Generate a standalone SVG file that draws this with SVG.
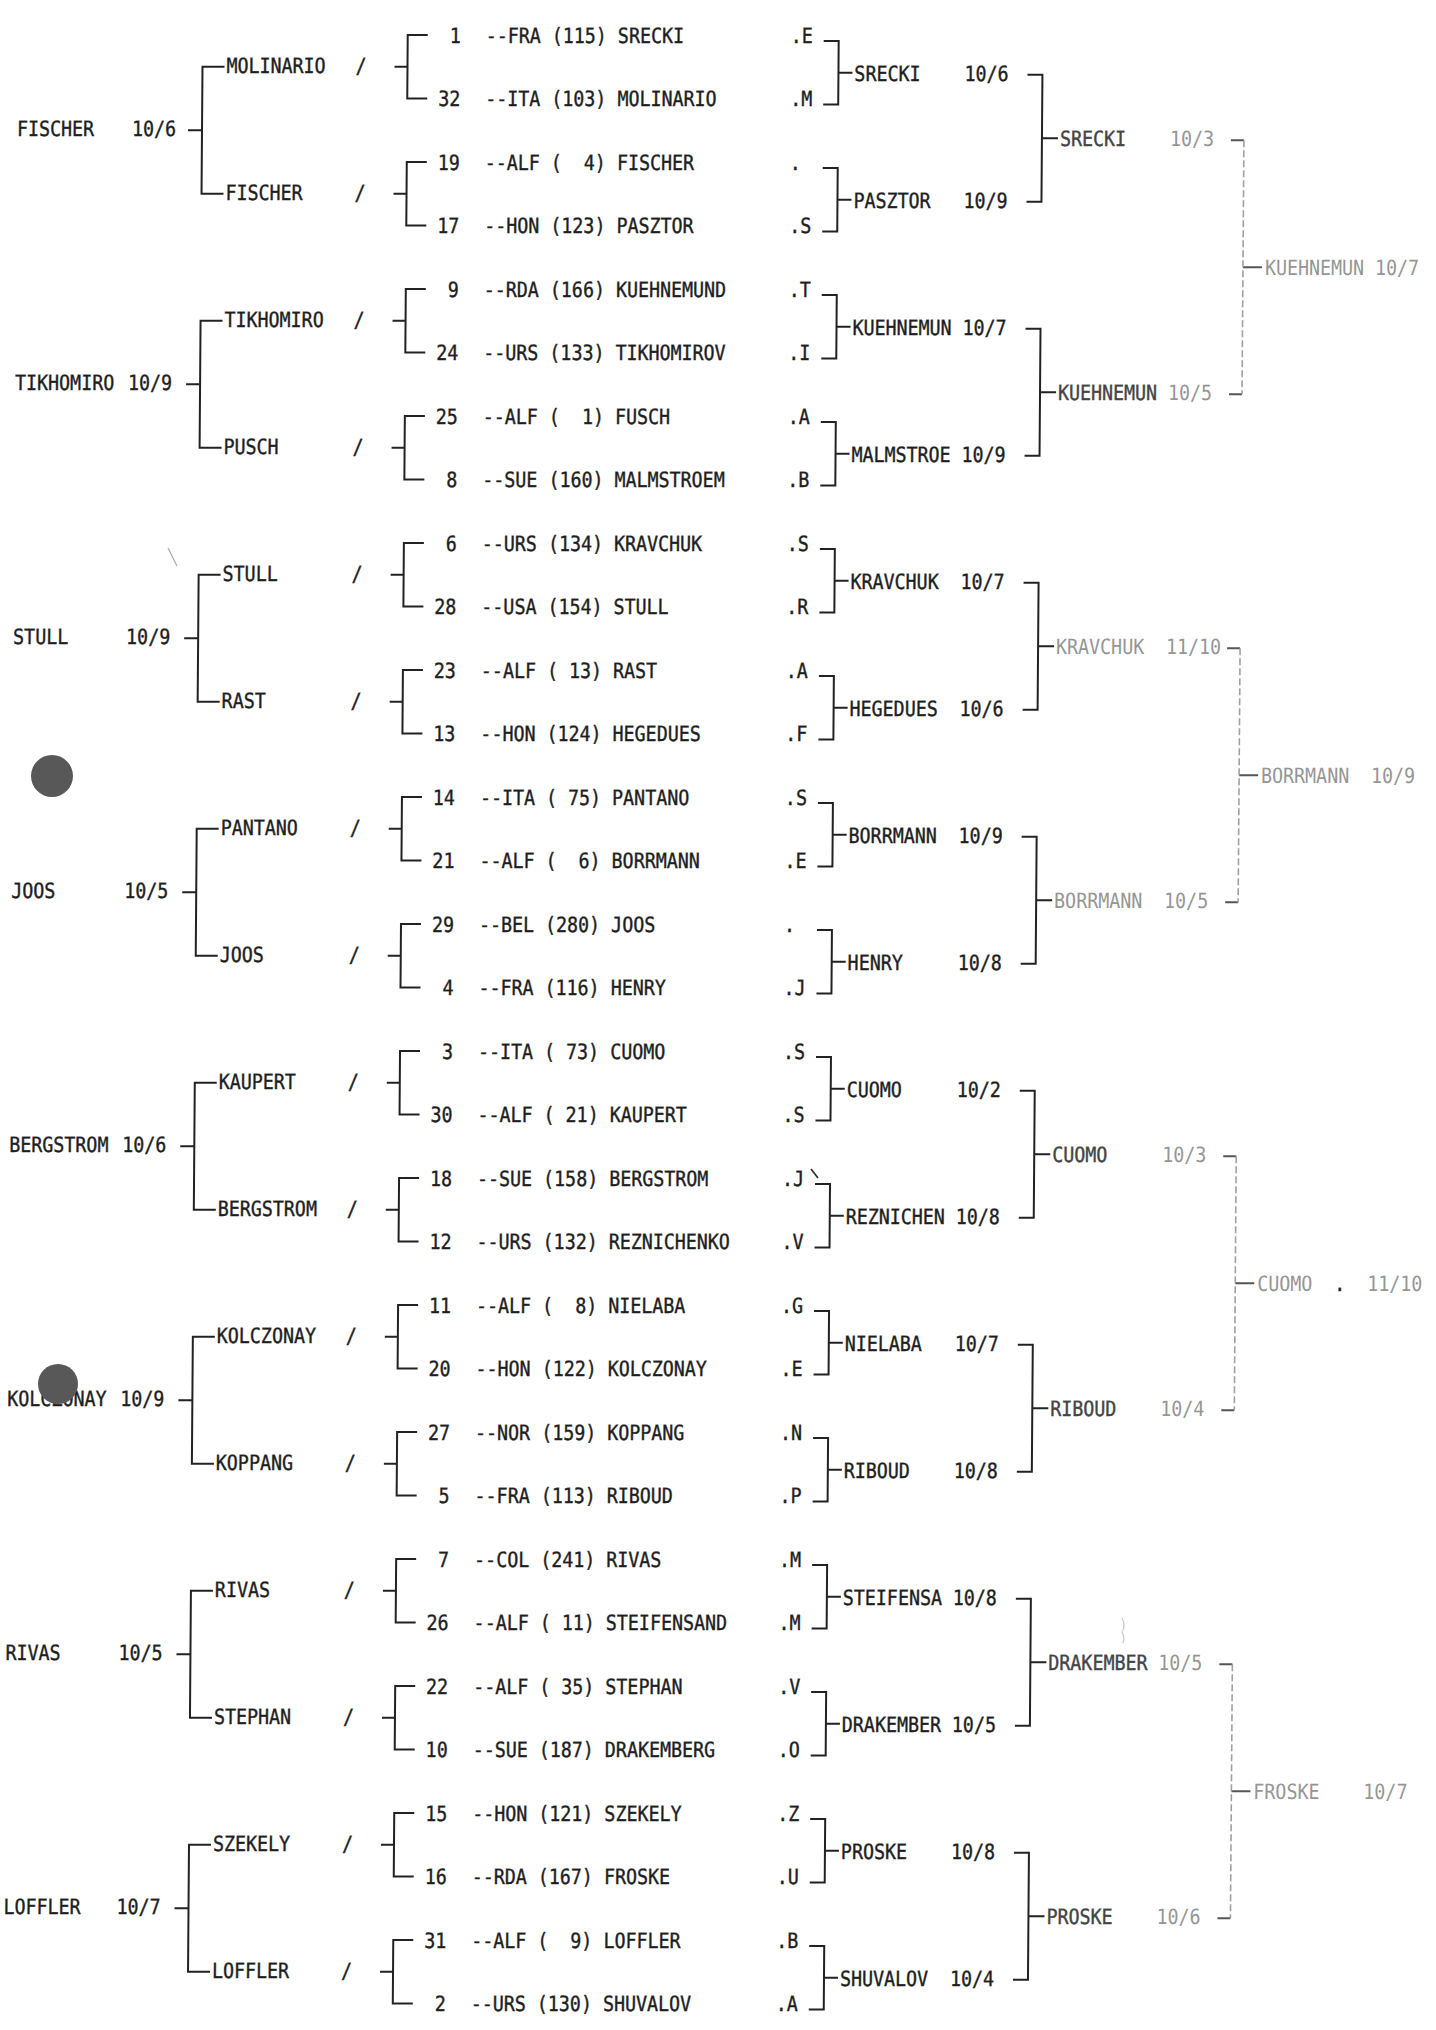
<svg xmlns="http://www.w3.org/2000/svg" width="1436" height="2030" viewBox="0 0 1436 2030">
<style>
text{font-family:"DejaVu Sans Mono","Liberation Mono",monospace;font-size:18.3px;fill:#1e1e1e;stroke:#1e1e1e;stroke-width:0.35;transform-box:fill-box;transform-origin:50% 50%;transform:scaleY(1.15);}
.n{text-anchor:end;}
.m{fill:#444;stroke:#444;}
.f{fill:#959595;stroke:none;}
.ln{fill:none;stroke:#222;stroke-width:2;}
.lm{fill:none;stroke:#555;stroke-width:1.8;}
.lf{fill:none;stroke:#a0a0a0;stroke-width:1.6;stroke-dasharray:7 3;}
</style>
<rect width="1436" height="2030" fill="#fff"/>
<g transform="skewX(-0.435)">
<g id="connectors">
<path class="ln" d="M225,66.75H203V193.75H225M189,130.25H203M225,320.75H203V447.75H225M189,384.25H203M225,574.75H203V701.75H225M189,638.25H203M225,828.75H203V955.75H225M189,892.25H203M225,1082.75H203V1209.75H225M189,1146.25H203M225,1336.75H203V1463.75H225M189,1400.25H203M225,1590.75H203V1717.75H225M189,1654.25H203M225,1844.75H203V1971.75H225M189,1908.25H203"/>
<path class="ln" d="M428,35H408V98.5H428M395,66.75H408M428,162H408V225.5H428M395,193.75H408M428,289H408V352.5H428M395,320.75H408M428,416H408V479.5H428M395,447.75H408M428,543H408V606.5H428M395,574.75H408M428,670H408V733.5H428M395,701.75H408M428,797H408V860.5H428M395,828.75H408M428,924H408V987.5H428M395,955.75H408M428,1051H408V1114.5H428M395,1082.75H408M428,1178H408V1241.5H428M395,1209.75H408M428,1305H408V1368.5H428M395,1336.75H408M428,1432H408V1495.5H428M395,1463.75H408M428,1559H408V1622.5H428M395,1590.75H408M428,1686H408V1749.5H428M395,1717.75H408M428,1813H408V1876.5H428M395,1844.75H408M428,1940H408V2003.5H428M395,1971.75H408"/>
<path class="ln" d="M824,41H839V104.5H824M839,72.75H853M824,168H839V231.5H824M839,199.75H853M824,295H839V358.5H824M839,326.75H853M824,422H839V485.5H824M839,453.75H853M824,549H839V612.5H824M839,580.75H853M824,676H839V739.5H824M839,707.75H853M824,803H839V866.5H824M839,834.75H853M824,930H839V993.5H824M839,961.75H853M824,1057H839V1120.5H824M839,1088.75H853M824,1184H839V1247.5H824M839,1215.75H853M824,1311H839V1374.5H824M839,1342.75H853M824,1438H839V1501.5H824M839,1469.75H853M824,1565H839V1628.5H824M839,1596.75H853M824,1692H839V1755.5H824M839,1723.75H853M824,1819H839V1882.5H824M839,1850.75H853M824,1946H839V2009.5H824M839,1977.75H853"/>
<path class="ln" d="M1028,74.75H1043V201.75H1028M1043,138.25H1059M1028,328.75H1043V455.75H1028M1043,392.25H1059M1028,582.75H1043V709.75H1028M1043,646.25H1059M1028,836.75H1043V963.75H1028M1043,900.25H1059M1028,1090.75H1043V1217.75H1028M1043,1154.25H1059M1028,1344.75H1043V1471.75H1028M1043,1408.25H1059M1028,1598.75H1043V1725.75H1028M1043,1662.25H1059M1028,1852.75H1043V1979.75H1028M1043,1916.25H1059"/>
<path class="lm" d="M1232,140.25H1245M1232,394.25H1245M1245,267.25H1264M1232,648.25H1245M1232,902.25H1245M1245,775.25H1264M1232,1156.25H1245M1232,1410.25H1245M1245,1283.25H1264M1232,1664.25H1245M1232,1918.25H1245M1245,1791.25H1264"/>
<path class="lf" d="M1245,140.25V394.25M1245,648.25V902.25M1245,1156.25V1410.25M1245,1664.25V1918.25"/>
</g>
<g id="entries">
<g id="seed1"><text class="n" x="461" y="42">1</text><text x="486" y="42">--FRA (115) SRECKI</text><text x="791" y="42">.E</text></g>
<g id="seed32"><text class="n" x="461" y="105.5">32</text><text x="486" y="105.5">--ITA (103) MOLINARIO</text><text x="791" y="105.5">.M</text></g>
<g id="seed19"><text class="n" x="461" y="169">19</text><text x="486" y="169">--ALF (&#160;&#160;4) FISCHER</text><text x="791" y="169">.</text></g>
<g id="seed17"><text class="n" x="461" y="232.5">17</text><text x="486" y="232.5">--HON (123) PASZTOR</text><text x="791" y="232.5">.S</text></g>
<g id="seed9"><text class="n" x="461" y="296">9</text><text x="486" y="296">--RDA (166) KUEHNEMUND</text><text x="791" y="296">.T</text></g>
<g id="seed24"><text class="n" x="461" y="359.5">24</text><text x="486" y="359.5">--URS (133) TIKHOMIROV</text><text x="791" y="359.5">.I</text></g>
<g id="seed25"><text class="n" x="461" y="423">25</text><text x="486" y="423">--ALF (&#160;&#160;1) FUSCH</text><text x="791" y="423">.A</text></g>
<g id="seed8"><text class="n" x="461" y="486.5">8</text><text x="486" y="486.5">--SUE (160) MALMSTROEM</text><text x="791" y="486.5">.B</text></g>
<g id="seed6"><text class="n" x="461" y="550">6</text><text x="486" y="550">--URS (134) KRAVCHUK</text><text x="791" y="550">.S</text></g>
<g id="seed28"><text class="n" x="461" y="613.5">28</text><text x="486" y="613.5">--USA (154) STULL</text><text x="791" y="613.5">.R</text></g>
<g id="seed23"><text class="n" x="461" y="677">23</text><text x="486" y="677">--ALF ( 13) RAST</text><text x="791" y="677">.A</text></g>
<g id="seed13"><text class="n" x="461" y="740.5">13</text><text x="486" y="740.5">--HON (124) HEGEDUES</text><text x="791" y="740.5">.F</text></g>
<g id="seed14"><text class="n" x="461" y="804">14</text><text x="486" y="804">--ITA ( 75) PANTANO</text><text x="791" y="804">.S</text></g>
<g id="seed21"><text class="n" x="461" y="867.5">21</text><text x="486" y="867.5">--ALF (&#160;&#160;6) BORRMANN</text><text x="791" y="867.5">.E</text></g>
<g id="seed29"><text class="n" x="461" y="931">29</text><text x="486" y="931">--BEL (280) JOOS</text><text x="791" y="931">.</text></g>
<g id="seed4"><text class="n" x="461" y="994.5">4</text><text x="486" y="994.5">--FRA (116) HENRY</text><text x="791" y="994.5">.J</text></g>
<g id="seed3"><text class="n" x="461" y="1058">3</text><text x="486" y="1058">--ITA ( 73) CUOMO</text><text x="791" y="1058">.S</text></g>
<g id="seed30"><text class="n" x="461" y="1121.5">30</text><text x="486" y="1121.5">--ALF ( 21) KAUPERT</text><text x="791" y="1121.5">.S</text></g>
<g id="seed18"><text class="n" x="461" y="1185">18</text><text x="486" y="1185">--SUE (158) BERGSTROM</text><text x="791" y="1185">.J</text></g>
<g id="seed12"><text class="n" x="461" y="1248.5">12</text><text x="486" y="1248.5">--URS (132) REZNICHENKO</text><text x="791" y="1248.5">.V</text></g>
<g id="seed11"><text class="n" x="461" y="1312">11</text><text x="486" y="1312">--ALF (&#160;&#160;8) NIELABA</text><text x="791" y="1312">.G</text></g>
<g id="seed20"><text class="n" x="461" y="1375.5">20</text><text x="486" y="1375.5">--HON (122) KOLCZONAY</text><text x="791" y="1375.5">.E</text></g>
<g id="seed27"><text class="n" x="461" y="1439">27</text><text x="486" y="1439">--NOR (159) KOPPANG</text><text x="791" y="1439">.N</text></g>
<g id="seed5"><text class="n" x="461" y="1502.5">5</text><text x="486" y="1502.5">--FRA (113) RIBOUD</text><text x="791" y="1502.5">.P</text></g>
<g id="seed7"><text class="n" x="461" y="1566">7</text><text x="486" y="1566">--COL (241) RIVAS</text><text x="791" y="1566">.M</text></g>
<g id="seed26"><text class="n" x="461" y="1629.5">26</text><text x="486" y="1629.5">--ALF ( 11) STEIFENSAND</text><text x="791" y="1629.5">.M</text></g>
<g id="seed22"><text class="n" x="461" y="1693">22</text><text x="486" y="1693">--ALF ( 35) STEPHAN</text><text x="791" y="1693">.V</text></g>
<g id="seed10"><text class="n" x="461" y="1756.5">10</text><text x="486" y="1756.5">--SUE (187) DRAKEMBERG</text><text x="791" y="1756.5">.O</text></g>
<g id="seed15"><text class="n" x="461" y="1820">15</text><text x="486" y="1820">--HON (121) SZEKELY</text><text x="791" y="1820">.Z</text></g>
<g id="seed16"><text class="n" x="461" y="1883.5">16</text><text x="486" y="1883.5">--RDA (167) FROSKE</text><text x="791" y="1883.5">.U</text></g>
<g id="seed31"><text class="n" x="461" y="1947">31</text><text x="486" y="1947">--ALF (&#160;&#160;9) LOFFLER</text><text x="791" y="1947">.B</text></g>
<g id="seed2"><text class="n" x="461" y="2010.5">2</text><text x="486" y="2010.5">--URS (130) SHUVALOV</text><text x="791" y="2010.5">.A</text></g>
</g>
<g id="left-round32">
<g id="l32-1"><text x="227" y="71.75">MOLINARIO</text><text x="356" y="71.75">/</text></g>
<g id="l32-2"><text x="227" y="198.75">FISCHER</text><text x="356" y="198.75">/</text></g>
<g id="l32-3"><text x="227" y="325.75">TIKHOMIRO</text><text x="356" y="325.75">/</text></g>
<g id="l32-4"><text x="227" y="452.75">PUSCH</text><text x="356" y="452.75">/</text></g>
<g id="l32-5"><text x="227" y="579.75">STULL</text><text x="356" y="579.75">/</text></g>
<g id="l32-6"><text x="227" y="706.75">RAST</text><text x="356" y="706.75">/</text></g>
<g id="l32-7"><text x="227" y="833.75">PANTANO</text><text x="356" y="833.75">/</text></g>
<g id="l32-8"><text x="227" y="960.75">JOOS</text><text x="356" y="960.75">/</text></g>
<g id="l32-9"><text x="227" y="1087.75">KAUPERT</text><text x="356" y="1087.75">/</text></g>
<g id="l32-10"><text x="227" y="1214.75">BERGSTROM</text><text x="356" y="1214.75">/</text></g>
<g id="l32-11"><text x="227" y="1341.75">KOLCZONAY</text><text x="356" y="1341.75">/</text></g>
<g id="l32-12"><text x="227" y="1468.75">KOPPANG</text><text x="356" y="1468.75">/</text></g>
<g id="l32-13"><text x="227" y="1595.75">RIVAS</text><text x="356" y="1595.75">/</text></g>
<g id="l32-14"><text x="227" y="1722.75">STEPHAN</text><text x="356" y="1722.75">/</text></g>
<g id="l32-15"><text x="227" y="1849.75">SZEKELY</text><text x="356" y="1849.75">/</text></g>
<g id="l32-16"><text x="227" y="1976.75">LOFFLER</text><text x="356" y="1976.75">/</text></g>
</g>
<g id="left-round16">
<g id="l16-1"><text x="18" y="135.25">FISCHER</text><text x="133" y="135.25">10/6</text></g>
<g id="l16-2"><text x="18" y="389.25">TIKHOMIRO</text><text x="131" y="389.25">10/9</text></g>
<g id="l16-3"><text x="18" y="643.25">STULL</text><text x="131" y="643.25">10/9</text></g>
<g id="l16-4"><text x="18" y="897.25">JOOS</text><text x="131" y="897.25">10/5</text></g>
<g id="l16-5"><text x="18" y="1151.25">BERGSTROM</text><text x="131" y="1151.25">10/6</text></g>
<g id="l16-6"><text x="18" y="1405.25">KOLCZONAY</text><text x="131" y="1405.25">10/9</text></g>
<g id="l16-7"><text x="18" y="1659.25">RIVAS</text><text x="131" y="1659.25">10/5</text></g>
<g id="l16-8"><text x="18" y="1913.25">LOFFLER</text><text x="131" y="1913.25">10/7</text></g>
</g>
<g id="right-round32">
<g id="r32-1"><text x="855" y="79.75">SRECKI</text><text x="965" y="79.75">10/6</text></g>
<g id="r32-2"><text x="855" y="206.75">PASZTOR</text><text x="965" y="206.75">10/9</text></g>
<g id="r32-3"><text x="855" y="333.75">KUEHNEMUN</text><text x="965" y="333.75">10/7</text></g>
<g id="r32-4"><text x="855" y="460.75">MALMSTROE</text><text x="965" y="460.75">10/9</text></g>
<g id="r32-5"><text x="855" y="587.75">KRAVCHUK</text><text x="965" y="587.75">10/7</text></g>
<g id="r32-6"><text x="855" y="714.75">HEGEDUES</text><text x="965" y="714.75">10/6</text></g>
<g id="r32-7"><text x="855" y="841.75">BORRMANN</text><text x="965" y="841.75">10/9</text></g>
<g id="r32-8"><text x="855" y="968.75">HENRY</text><text x="965" y="968.75">10/8</text></g>
<g id="r32-9"><text x="855" y="1095.75">CUOMO</text><text x="965" y="1095.75">10/2</text></g>
<g id="r32-10"><text x="855" y="1222.75">REZNICHEN</text><text x="965" y="1222.75">10/8</text></g>
<g id="r32-11"><text x="855" y="1349.75">NIELABA</text><text x="965" y="1349.75">10/7</text></g>
<g id="r32-12"><text x="855" y="1476.75">RIBOUD</text><text x="965" y="1476.75">10/8</text></g>
<g id="r32-13"><text x="855" y="1603.75">STEIFENSA</text><text x="965" y="1603.75">10/8</text></g>
<g id="r32-14"><text x="855" y="1730.75">DRAKEMBER</text><text x="965" y="1730.75">10/5</text></g>
<g id="r32-15"><text x="855" y="1857.75">PROSKE</text><text x="965" y="1857.75">10/8</text></g>
<g id="r32-16"><text x="855" y="1984.75">SHUVALOV</text><text x="965" y="1984.75">10/4</text></g>
</g>
<g id="right-round16">
<g id="r16-1"><text class="m" x="1061" y="145.25">SRECKI</text><text class="f" x="1171" y="145.25">10/3</text></g>
<g id="r16-2"><text class="m" x="1061" y="399.25">KUEHNEMUN</text><text class="f" x="1171" y="399.25">10/5</text></g>
<g id="r16-3"><text class="f" x="1061" y="653.25">KRAVCHUK</text><text class="f" x="1171" y="653.25">11/10</text></g>
<g id="r16-4"><text class="f" x="1061" y="907.25">BORRMANN</text><text class="f" x="1171" y="907.25">10/5</text></g>
<g id="r16-5"><text class="m" x="1061" y="1161.25">CUOMO</text><text class="f" x="1171" y="1161.25">10/3</text></g>
<g id="r16-6"><text class="m" x="1061" y="1415.25">RIBOUD</text><text class="f" x="1171" y="1415.25">10/4</text></g>
<g id="r16-7"><text class="m" x="1061" y="1669.25">DRAKEMBER</text><text class="f" x="1171" y="1669.25">10/5</text></g>
<g id="r16-8"><text class="m" x="1061" y="1923.25">PROSKE</text><text class="f" x="1171" y="1923.25">10/6</text></g>
</g>
<g id="right-round8">
<g id="r8-1"><text class="f" x="1267" y="274.25">KUEHNEMUN</text><text class="f" x="1377" y="274.25">10/7</text></g>
<g id="r8-2"><text class="f" x="1267" y="782.25">BORRMANN</text><text class="f" x="1377" y="782.25">10/9</text></g>
<g id="r8-3"><text class="f" x="1267" y="1290.25">CUOMO</text><text x="1344" y="1290.25">.</text><text class="f" x="1377" y="1290.25">11/10</text></g>
<g id="r8-4"><text class="f" x="1267" y="1798.25">FROSKE</text><text class="f" x="1377" y="1798.25">10/7</text></g>
</g>
</g>
<g id="scan-marks">
<circle cx="52" cy="776" r="21" fill="#585858"/>
<circle cx="58" cy="1384" r="20" fill="#585858"/>
<path d="M168,548L177,566" stroke="#aaa" stroke-width="1.3" fill="none"/>
<path d="M811,1169L818,1178" stroke="#333" stroke-width="1.8" fill="none"/>
<path d="M1122,1618q4,8 0,14q3,6 1,11" stroke="#ccc" stroke-width="1.3" fill="none"/>
</g>
</svg>
